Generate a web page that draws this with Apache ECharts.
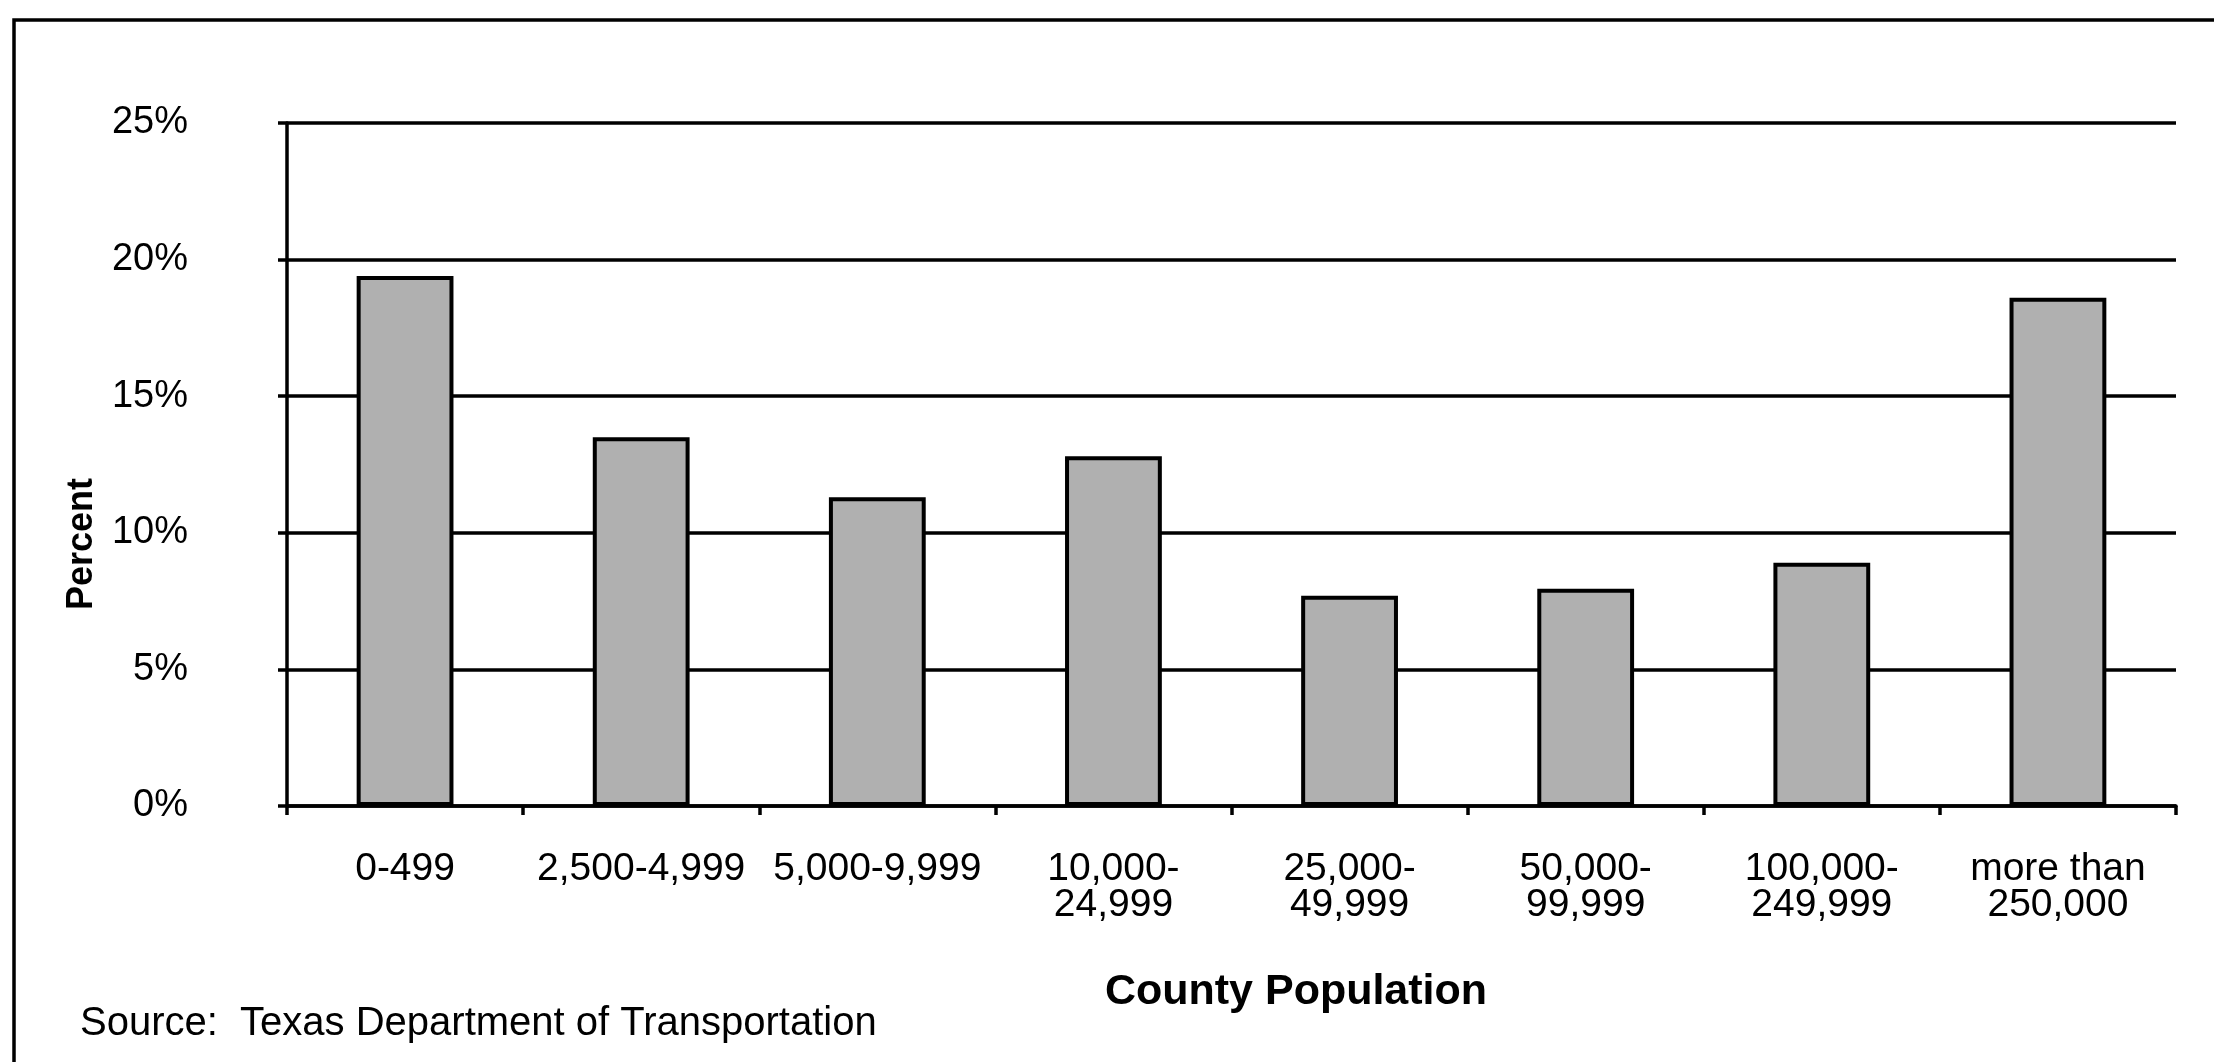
<!DOCTYPE html>
<html>
<head>
<meta charset="utf-8">
<style>
  html, body { margin: 0; padding: 0; background: #ffffff; }
  #chart { width: 2214px; height: 1062px; }
</style>
<script src="https://cdn.jsdelivr.net/npm/echarts@6/dist/echarts.min.js"></script>
</head>
<body>
<div id="chart"></div>
<script>
// County population groups (x axis)
const categories = [
  '0-499',
  '2,500-4,999',
  '5,000-9,999',
  '10,000-\n24,999',
  '25,000-\n49,999',
  '50,000-\n99,999',
  '100,000-\n249,999',
  'more than\n250,000'
];

// Share of total, in percent
const percentValues = [19.4, 13.5, 11.3, 12.8, 7.7, 7.95, 8.9, 18.6];

// Y axis range and step (percent)
const yMin = 0;
const yMax = 25;
const yStep = 5;

const FONT = '"Liberation Sans", Arial, sans-serif';

const chart = echarts.init(document.getElementById('chart'), null, { renderer: 'canvas' });

chart.setOption({
  backgroundColor: '#ffffff',
  animation: false,
  grid: { left: 287, right: 38, top: 123, bottom: 256, containLabel: false },
  xAxis: {
    type: 'category',
    data: categories,
    boundaryGap: true,
    axisLine: { show: true, lineStyle: { color: '#000', width: 3.5 } },
    axisTick: { show: true, length: 9, inside: false, lineStyle: { color: '#000', width: 3.5 } },
    axisLabel: {
      interval: 0,
      margin: 45,
      color: '#000',
      fontFamily: FONT,
      fontSize: 39,
      lineHeight: 36
    },
    splitLine: { show: false }
  },
  yAxis: {
    type: 'value',
    min: yMin,
    max: yMax,
    interval: yStep,
    axisLine: { show: true, lineStyle: { color: '#000', width: 3.5 } },
    axisTick: { show: true, length: 9, inside: false, lineStyle: { color: '#000', width: 3.5 } },
    axisLabel: {
      margin: 99,
      color: '#000',
      fontFamily: FONT,
      fontSize: 38,
      formatter: '{value}%'
    },
    splitLine: { show: true, lineStyle: { color: '#000', width: 3.5 } }
  },
  series: [{
    type: 'bar',
    data: percentValues,
    barWidth: '41%',
    itemStyle: { color: '#b0b0b0', borderColor: '#000', borderWidth: 4 },
    z: 3
  }],
  graphic: [
    // page frame along the left and top edges
    {
      type: 'polyline',
      shape: { points: [[14, 1062], [14, 20], [2214, 20]] },
      style: { stroke: '#000', lineWidth: 3.5, fill: null },
      silent: true
    },
    {
      type: 'text',
      x: 82, y: 544,
      rotation: Math.PI / 2,
      style: {
        text: 'Percent',
        fill: '#000',
        font: 'bold 36px ' + FONT,
        align: 'center',
        verticalAlign: 'middle'
      }
    },
    {
      type: 'text',
      x: 1296, y: 992,
      style: {
        text: 'County Population',
        fill: '#000',
        font: 'bold 43px ' + FONT,
        align: 'center',
        verticalAlign: 'middle'
      }
    },
    {
      type: 'text',
      x: 80, y: 1024,
      style: {
        text: 'Source:  Texas Department of Transportation',
        fill: '#000',
        font: '40px ' + FONT,
        align: 'left',
        verticalAlign: 'middle'
      }
    }
  ]
});
</script>
</body>
</html>
